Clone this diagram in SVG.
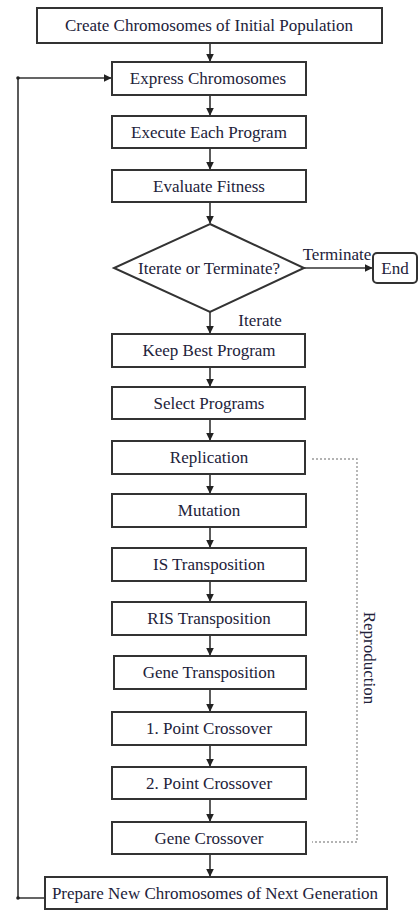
<svg xmlns="http://www.w3.org/2000/svg" width="419" height="910" viewBox="0 0 419 910">
  <style>
    .box { fill: #ffffff; stroke: #333333; stroke-width: 2; }
    .lbl { font-family: "Liberation Serif", "DejaVu Serif", serif; font-size: 17px; fill: #22223a; text-anchor: middle; dominant-baseline: central; }
    .edge { fill: none; stroke: #333333; stroke-width: 1.6; }
    .dots { fill: none; stroke: #9a9a9a; stroke-width: 1.4; stroke-dasharray: 2 2; }
  </style>
  <defs>
    <marker id="arrow" viewBox="0 0 6 6" refX="5.5" refY="3" markerWidth="5" markerHeight="5" orient="auto">
      <path d="M0,0 L6,3 L0,6 z" fill="#222222"/>
    </marker>
  </defs>
  <rect width="419" height="910" fill="#ffffff"/>

  <g id="connectors">
    <path class="edge" d="M210,43 V61" marker-end="url(#arrow)"/>
    <path class="edge" d="M210,95 V115" marker-end="url(#arrow)"/>
    <path class="edge" d="M210,148 V169" marker-end="url(#arrow)"/>
    <path class="edge" d="M210,202 V223" marker-end="url(#arrow)"/>
    <path class="edge" d="M304,268 H372" marker-end="url(#arrow)"/>
    <path class="edge" d="M210,312 V333" marker-end="url(#arrow)"/>
    <path class="edge" d="M210,367 V386" marker-end="url(#arrow)"/>
    <path class="edge" d="M210,419 V440" marker-end="url(#arrow)"/>
    <path class="edge" d="M210,474 V493" marker-end="url(#arrow)"/>
    <path class="edge" d="M210,527 V547" marker-end="url(#arrow)"/>
    <path class="edge" d="M210,581 V601" marker-end="url(#arrow)"/>
    <path class="edge" d="M210,635 V655" marker-end="url(#arrow)"/>
    <path class="edge" d="M210,689 V711" marker-end="url(#arrow)"/>
    <path class="edge" d="M210,745 V766" marker-end="url(#arrow)"/>
    <path class="edge" d="M210,799 V821" marker-end="url(#arrow)"/>
    <path class="edge" d="M210,854 V876" marker-end="url(#arrow)"/>
    <!-- loop back to expression -->
    <path class="edge" d="M45,898 H18 V78 H111" marker-end="url(#arrow)"/>
    <circle cx="18" cy="898" r="1.8" fill="#222"/>
    <circle cx="18" cy="78" r="1.8" fill="#222"/>
    <!-- reproduction bracket -->
    <path class="dots" d="M312,459 H357 V842 H312"/>
  </g>

  <g id="create">
    <rect class="box" x="37" y="8" width="345" height="35"/>
    <text class="lbl" x="209" y="25">Create Chromosomes of Initial Population</text>
  </g>
  <g id="express">
    <rect class="box" x="112" y="62" width="194" height="33"/>
    <text class="lbl" x="208" y="78">Express Chromosomes</text>
  </g>
  <g id="execute">
    <rect class="box" x="112" y="116" width="194" height="32"/>
    <text class="lbl" x="209" y="132">Execute Each Program</text>
  </g>
  <g id="evaluate">
    <rect class="box" x="112" y="170" width="194" height="32"/>
    <text class="lbl" x="209" y="186">Evaluate Fitness</text>
  </g>
  <g id="decision">
    <polygon class="box" points="210,224 304,268 210,312 114,268"/>
    <text class="lbl" x="209" y="268">Iterate or Terminate?</text>
  </g>
  <g id="end">
    <rect class="box" x="373" y="253" width="44" height="30" rx="4"/>
    <text class="lbl" x="395" y="268">End</text>
  </g>
  <g id="labels">
    <text class="lbl" x="337" y="254">Terminate</text>
    <text class="lbl" x="260" y="320">Iterate</text>
  </g>
  <g id="keep">
    <rect class="box" x="112" y="334" width="193" height="33"/>
    <text class="lbl" x="209" y="350">Keep Best Program</text>
  </g>
  <g id="select">
    <rect class="box" x="112" y="387" width="193" height="32"/>
    <text class="lbl" x="209" y="403">Select Programs</text>
  </g>
  <g id="replication">
    <rect class="box" x="112" y="441" width="193" height="33"/>
    <text class="lbl" x="209" y="457">Replication</text>
  </g>
  <g id="mutation">
    <rect class="box" x="112" y="494" width="194" height="33"/>
    <text class="lbl" x="209" y="510">Mutation</text>
  </g>
  <g id="is">
    <rect class="box" x="112" y="548" width="194" height="33"/>
    <text class="lbl" x="209" y="564">IS Transposition</text>
  </g>
  <g id="ris">
    <rect class="box" x="112" y="602" width="194" height="33"/>
    <text class="lbl" x="209" y="618">RIS Transposition</text>
  </g>
  <g id="gene-transposition">
    <rect class="box" x="114" y="656" width="192" height="33"/>
    <text class="lbl" x="209" y="672">Gene Transposition</text>
  </g>
  <g id="one-point">
    <rect class="box" x="112" y="712" width="194" height="33"/>
    <text class="lbl" x="209" y="728">1. Point Crossover</text>
  </g>
  <g id="two-point">
    <rect class="box" x="112" y="767" width="194" height="32"/>
    <text class="lbl" x="209" y="783">2. Point Crossover</text>
  </g>
  <g id="gene-crossover">
    <rect class="box" x="112" y="822" width="194" height="32"/>
    <text class="lbl" x="209" y="838">Gene Crossover</text>
  </g>
  <g id="prepare">
    <rect class="box" x="45" y="877" width="342" height="32"/>
    <text class="lbl" x="215" y="893">Prepare New Chromosomes of Next Generation</text>
  </g>
  <g id="reproduction">
    <text class="lbl" x="0" y="0" transform="translate(369,658) rotate(90)">Reproduction</text>
  </g>
</svg>
